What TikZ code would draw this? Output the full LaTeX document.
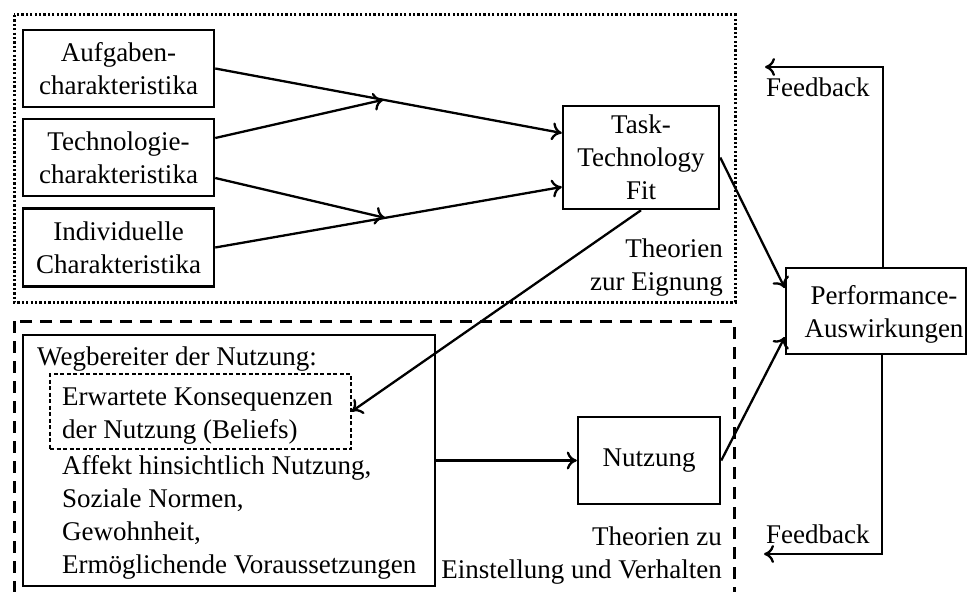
\documentclass[tikz,border=0pt]{standalone}
\usepackage{fontspec}
\setmainfont{Liberation Serif}
\usetikzlibrary{arrows.meta,calc}

\tikzset{
  box/.style={draw, line width=2.5pt, inner sep=0pt, align=center},
  tip/.style={-{Computer Modern Rightarrow[length=10pt,width=18pt]}},
  flow/.style={line width=2.3pt, tip},
  plain/.style={line width=2.3pt},
  fitframe/.style={line width=3pt, dash pattern=on 2.3pt off 2.1pt},
  usageframe/.style={line width=3pt, dash pattern=on 12pt off 8pt},
  label/.style={inner sep=0pt, align=left},
}

\begin{document}
\begin{tikzpicture}[x=1pt, y=-1pt, font=\fontsize{27pt}{33pt}\selectfont]
\useasboundingbox (0,0) rectangle (968,591);
\clip (0,0) rectangle (968,591);

% group frames
\draw[fitframe] (14,15) rectangle (735,302);
\draw[usageframe] (14,321) rectangle (734,640);

% task-technology fit side
\node[box, minimum width=191pt, minimum height=77pt] (aufg) at (118.5,68.5) {Aufgaben-\\charakteristika};
\node[box, minimum width=191pt, minimum height=77pt] (tech) at (118.5,157.5) {Technologie-\\charakteristika};
\node[box, minimum width=191pt, minimum height=78pt] (indiv) at (118.5,247.5) {Individuelle\\Charakteristika};
\node[box, minimum width=156pt, minimum height=103pt] (ttf) at (641,157.5) {Task-\\Technology\\Fit};

% outcome
\node[box, minimum width=180pt, minimum height=86pt] (perf) at (876,311) {};
\node[label, align=center] (perftext) at (884,314) {Performance-\\Auswirkungen};

% usage side
\node[draw, line width=2pt, minimum width=412pt, minimum height=251pt, inner sep=0pt] (weg) at (229,460.5) {};
\node[label, anchor=base west] (wegtext) at (37,365) {Wegbereiter der Nutzung:};
\node[draw, line width=1.2pt, dash pattern=on 4pt off 2.5pt, minimum width=301pt, minimum height=75pt, inner sep=0pt] (erw) at (200.5,411.5) {};
\node[label, anchor=base west] (erwtext) at (62,438) {Erwartete Konsequenzen\\der Nutzung (Beliefs)};
\node[label, anchor=base west] (rest) at (62,573) {Affekt hinsichtlich Nutzung,\\Soziale Normen,\\Gewohnheit,\\Ermöglichende Voraussetzungen};
\node[box, minimum width=142pt, minimum height=87pt] (nutz) at (649,460.5) {Nutzung};

% frame captions
\node[label, align=right, anchor=base east] (capfit) at (723,290) {Theorien\\zur Eignung};
\node[label, align=right, anchor=base east] (capuse) at (722,578) {Theorien zu\\Einstellung und Verhalten};

% feedback captions and loose ends
\coordinate (fbtop) at (765,67);
\coordinate (fbbot) at (764,554);
\node[label, anchor=base west] (fbtoptext) at (766,97) {Feedback};
\node[label, anchor=base west] (fbbottext) at (766,543) {Feedback};

% connectors into the fit box
\coordinate (ttfin1) at ([yshift=24.5pt]ttf.west);
\coordinate (ttfin2) at ([yshift=-29.5pt]ttf.west);
\draw[flow] (aufg.east) -- (ttfin1);
\draw[flow] (indiv.east) -- (ttfin2);
\draw[flow] ([yshift=19.5pt]tech.east) -- ($(aufg.east)!0.485!(ttfin1)$);
\draw[flow] ([yshift=-20.5pt]tech.east) -- ($(indiv.east)!0.49!(ttfin2)$);

% fit to beliefs and performance
\draw[flow] (ttf.south) -- (erw.east);
\draw[flow] (ttf.east) -- ([yshift=23pt]perf.west);

% usage path
\draw[flow] (weg.east) -- (nutz.west);
\draw[flow] (nutz.east) -- ([yshift=-26pt]perf.west);

% feedback loops
\draw[plain, tip] ([xshift=7pt]perf.north) |- (fbtop);
\draw[plain, tip] ([xshift=6pt]perf.south) |- (fbbot);
\end{tikzpicture}
\end{document}
